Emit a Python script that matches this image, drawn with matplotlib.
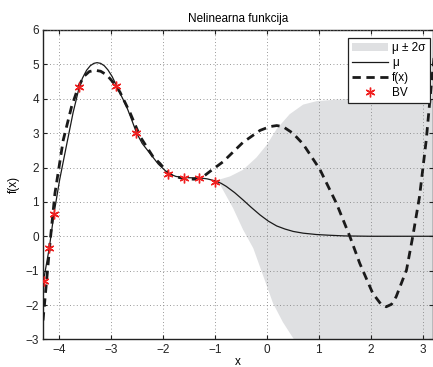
import numpy as np
import matplotlib
matplotlib.use("Agg")
import matplotlib.pyplot as plt
from matplotlib.lines import Line2D
from matplotlib.patches import Patch

# GP mean (mu)
mu_x = [-4.31, -4.30, -4.19, -4.10, -3.99, -3.85, -3.73, -3.61, -3.55, -3.47,
        -3.40, -3.33, -3.27, -3.20, -3.13, -3.06, -2.98, -2.90, -2.80, -2.70,
        -2.60, -2.51, -2.40, -2.25, -2.09, -1.90, -1.75, -1.60, -1.45, -1.30,
        -1.15, -0.99, -0.88, -0.78, -0.62, -0.46, -0.30, -0.13, 0.03, 0.19,
        0.35, 0.51, 0.70, 0.96, 1.20, 1.50, 2.00, 3.20]
mu_y = [-1.45, -1.29, -0.35, 0.64, 1.64, 2.70, 3.60, 4.35, 4.60, 4.83,
        4.96, 5.03, 5.05, 5.03, 4.96, 4.84, 4.65, 4.40, 4.08, 3.77,
        3.38, 3.01, 2.70, 2.41, 2.10, 1.83, 1.74, 1.71, 1.70, 1.70,
        1.67, 1.61, 1.54, 1.45, 1.27, 1.06, 0.84, 0.62, 0.44, 0.30,
        0.21, 0.14, 0.09, 0.05, 0.03, 0.01, 0.0, 0.0]

# true function f(x)
f_x = [-4.31, -4.27, -4.17, -4.08, -3.92, -3.76, -3.64, -3.53, -3.42, -3.31,
       -3.20, -3.08, -2.96, -2.83, -2.63, -2.44, -2.19, -2.06, -1.87, -1.61,
       -1.40, -1.22, -1.10, -0.84, -0.46, -0.13, 0.06, 0.19, 0.31, 0.50,
       0.70, 1.02, 1.34, 1.60, 1.79, 2.04, 2.20, 2.30, 2.40, 2.49,
       2.69, 2.81, 2.94, 3.07, 3.17, 3.22]
f_y = [-2.45, -1.79, -0.11, 1.25, 2.80, 3.77, 4.30, 4.64, 4.79, 4.83,
       4.80, 4.69, 4.48, 4.20, 3.58, 2.90, 2.31, 2.12, 1.78, 1.68,
       1.66, 1.74, 1.88, 2.17, 2.73, 3.08, 3.19, 3.22, 3.19, 3.00,
       2.68, 1.95, 0.96, -0.01, -0.79, -1.66, -1.98, -2.05, -1.98, -1.76,
       -0.98, -0.01, 1.15, 2.80, 4.45, 5.20]

# mu +/- 2 sigma band
up_x = [-1.00, -0.71, -0.46, -0.20, 0.00, 0.19, 0.44, 0.70, 0.96, 1.30, 1.60, 3.25]
up_y = [1.61, 1.74, 1.93, 2.29, 2.66, 3.12, 3.55, 3.83, 3.93, 3.97, 3.99, 4.00]
lo_x = [-1.00, -0.90, -0.65, -0.46, -0.26, -0.07, 0.12, 0.31, 0.51, 0.70, 1.00, 1.50, 3.25]
lo_y = [1.61, 1.50, 0.82, 0.20, -0.35, -1.15, -1.95, -2.50, -2.97, -3.40, -3.80, -3.97, -4.00]

# basis vectors (BV)
bv_x = [-4.30, -4.19, -4.10, -3.61, -2.90, -2.51, -1.90, -1.60, -1.30, -0.99]
bv_y = [-1.29, -0.35, 0.64, 4.35, 4.38, 3.01, 1.81, 1.70, 1.70, 1.59]

plt.rcParams["font.family"] = ["Liberation Sans", "DejaVu Sans"]
plt.rcParams["font.size"] = 8.5

fig = plt.figure(figsize=(4.33, 3.67), dpi=100)
ax = fig.add_axes([43 / 433, 1 - 339.4 / 367, 1 - 43 / 433, (339.4 - 30) / 367])

band_color = "#dfe0e2"
ax.fill(up_x + lo_x[::-1], up_y + lo_y[::-1], color=band_color, lw=0, zorder=1)
ax.plot(mu_x, mu_y, color="#1a1a1a", lw=0.9, zorder=3)
ax.plot(f_x, f_y, color="#1a1a1a", lw=2.0, dashes=(3.0, 2.0), zorder=4)
ax.plot(bv_x, bv_y, ls="none", marker=(6, 2, 0), ms=7, mew=1.0,
        color="#f02020", zorder=5)

ax.set_xlim(-4.31, 3.2)
ax.set_ylim(-3, 6)
ax.set_xticks(np.arange(-4, 4))
ax.set_yticks(np.arange(-3, 7))
ax.grid(True, ls=(0, (1, 3)), color="#777777", lw=0.6)
ax.set_axisbelow(False)
ax.tick_params(direction="in", top=True, right=True, length=3, width=0.8,
               colors="#222222", labelsize=8.5, pad=3)
for s in ax.spines.values():
    s.set_linewidth(1.0)
    s.set_color("#222222")

ax.set_title("Nelinearna funkcija", fontsize=8.5, pad=6)
ax.set_xlabel("x", labelpad=0)
ax.set_ylabel("f(x)", labelpad=4)

handles = [
    Patch(facecolor=band_color, edgecolor="none"),
    Line2D([], [], color="#1a1a1a", lw=0.9),
    Line2D([], [], color="#1a1a1a", lw=2.0, dashes=(3.0, 2.0)),
    Line2D([], [], ls="none", marker=(6, 2, 0), ms=7, mew=1.0, color="#f02020"),
]
labels = ["\u03bc \u00b1 2\u03c3", "\u03bc", "f(x)", "BV"]
leg = ax.legend(handles, labels, loc="upper right", bbox_to_anchor=(0.992, 0.974),
                borderaxespad=0, fancybox=False, framealpha=1, edgecolor="#222222",
                handlelength=3.0, handletextpad=0.4, labelspacing=0.25,
                borderpad=0.35, fontsize=8.5)
leg.get_frame().set_linewidth(0.9)

fig.savefig("out.png", dpi=100)
